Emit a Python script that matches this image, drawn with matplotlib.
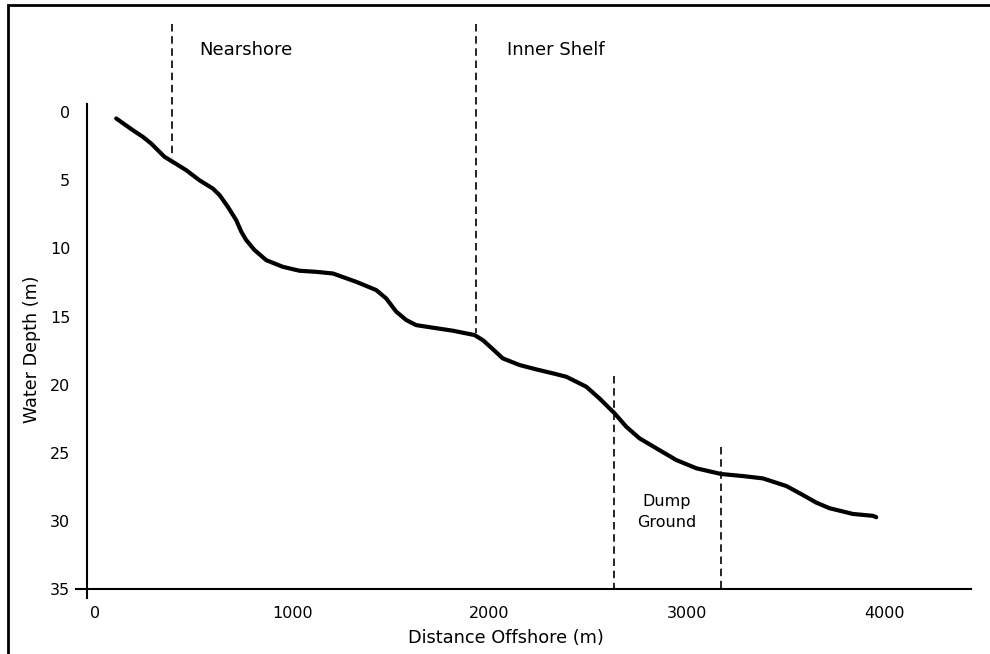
import matplotlib
matplotlib.use("Agg")
import matplotlib.pyplot as plt
from matplotlib.patches import Rectangle

# Bathymetric profile (distance offshore in m, water depth in m)
distance = [108, 192, 243, 285, 319, 353, 395, 463, 530, 598, 632, 674, 716, 742,
            767, 809, 868, 952, 1037, 1122, 1206, 1324, 1426, 1476, 1527, 1578,
            1628, 1713, 1814, 1924, 1966, 2017, 2067, 2152, 2237, 2321, 2389,
            2490, 2557, 2634, 2693, 2760, 2845, 2946, 3048, 3174, 3284, 3385,
            3504, 3588, 3656, 3723, 3841, 3943, 3960]
depth = [0.46, 1.32, 1.81, 2.30, 2.79, 3.28, 3.65, 4.26, 5.00, 5.61, 6.09, 6.95,
         7.92, 8.78, 9.39, 10.12, 10.86, 11.35, 11.64, 11.72, 11.84, 12.45, 13.06,
         13.67, 14.64, 15.26, 15.63, 15.82, 16.04, 16.36, 16.73, 17.40, 18.07,
         18.56, 18.88, 19.17, 19.42, 20.15, 21.01, 22.11, 23.09, 23.94, 24.67,
         25.53, 26.14, 26.56, 26.71, 26.88, 27.44, 28.10, 28.66, 29.07, 29.49,
         29.63, 29.73]

# Zone boundaries (dashed lines)
boundary_x = [390, 1932, 2633, 3175]
boundary_top = [-6.5, -6.5, 19.4, 24.6]
boundary_bottom = [3.4, 16.2, 35, 35]

# Zone labels
zone_labels = ["Nearshore", "Inner Shelf"]
zone_label_x = [530, 2086]
zone_label_depth = [-4.55, -4.55]
dump_label = "Dump\nGround"
dump_label_x = 2897
dump_label_depth = 29.35

x_ticks = [0, 1000, 2000, 3000, 4000]
y_ticks = [0, 5, 10, 15, 20, 25, 30, 35]

plt.rcParams['font.family'] = ['DejaVu Sans']

fig = plt.figure(figsize=(9.9, 6.54), dpi=100)
ax = fig.add_axes([87 / 990, 1 - 589 / 654, (971 - 87) / 990, (589 - 104) / 654])

# outer frame (left and top edges visible)
fig.patches.append(Rectangle((8 / 990, -0.5), 2.0, (1 - 5 / 654) + 0.5,
                             transform=fig.transFigure, fill=False,
                             edgecolor='black', linewidth=2.0))

ax.plot(distance, depth, color='black', linewidth=3.0,
        solid_joinstyle='round', solid_capstyle='round', zorder=3)

for bx, bt, bb in zip(boundary_x, boundary_top, boundary_bottom):
    ax.plot([bx, bx], [bt, bb], color='black', linewidth=1.2,
            linestyle=(0, (4.5, 2.8)), clip_on=False, zorder=2)

for lab, lx, ld in zip(zone_labels, zone_label_x, zone_label_depth):
    ax.text(lx, ld, lab, ha='left', va='center', fontsize=13, clip_on=False)

ax.text(dump_label_x, dump_label_depth, dump_label, ha='center', va='center',
        fontsize=11.5, linespacing=1.45)

ax.set_xlim(-40, 4440)
ax.set_ylim(35, -0.6)
ax.set_xticks(x_ticks)
ax.set_yticks(y_ticks)
ax.tick_params(length=0, pad=12, labelsize=11.5)

for s in ['top', 'right']:
    ax.spines[s].set_visible(False)
ax.spines['left'].set_bounds(-0.6, 35.66)
ax.spines['bottom'].set_bounds(-98, 4440)
ax.spines['left'].set_linewidth(1.5)
ax.spines['bottom'].set_linewidth(1.5)

ax.set_xlabel("Distance Offshore (m)", fontsize=12.8)
ax.set_ylabel("Water Depth (m)", fontsize=12.6)
ax.xaxis.set_label_coords((506 - 87) / 884, -(638 - 589) / 485, transform=ax.transAxes)
ax.yaxis.set_label_coords(-(87 - 32) / 884, 1 - (349 - 104) / 485, transform=ax.transAxes)
ax.xaxis.label.set_va('center')
ax.yaxis.label.set_va('center')

fig.savefig("out.png", dpi=100)
